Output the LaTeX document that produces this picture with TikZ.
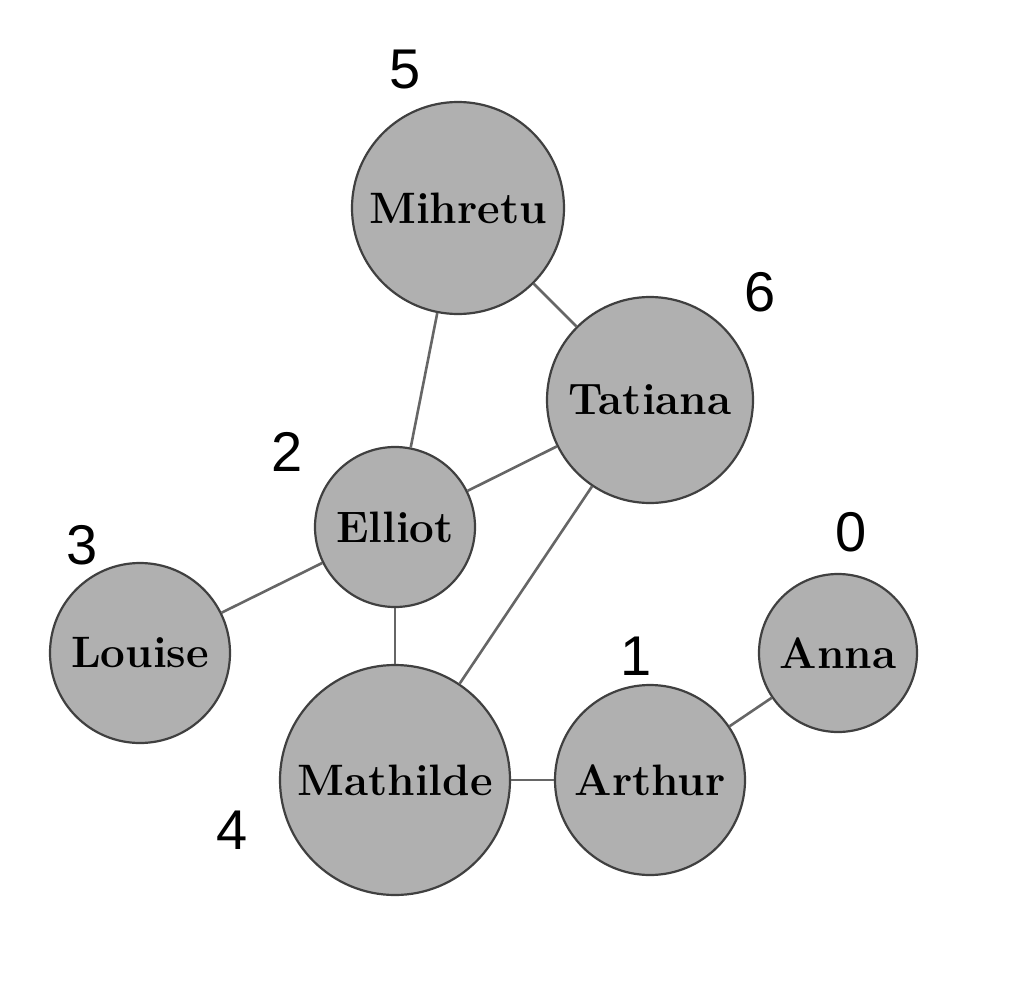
\documentclass[tikz,border=0pt]{standalone}
\usepackage{fontspec}
\newfontfamily\digitfont{Liberation Sans}
\begin{document}
\begin{tikzpicture}[x=1pt,y=-1pt,
  person/.style={circle, draw=black!75, line width=2.2pt, fill=black!31,
    inner sep=0pt, font=\fontsize{44}{50}\selectfont\bfseries},
  tie/.style={draw=black!60, line width=2.6pt},
  rank/.style={font=\digitfont\fontsize{56}{60}\selectfont, text=black}]
\useasboundingbox (0,0) rectangle (1036,990);

% people
\node[person, minimum size=212pt] (mih) at (458,208) {Mihretu};
\node[person, minimum size=206pt] (tat) at (650,400) {Tatiana};
\node[person, minimum size=160pt] (ell) at (395,527) {Elliot};
\node[person, minimum size=180pt] (lou) at (140,653) {Louise};
\node[person, minimum size=230pt] (mat) at (395,780) {Mathilde};
\node[person, minimum size=190pt] (art) at (650,780) {Arthur};
\node[person, minimum size=158pt] (ann) at (838,653) {Anna};

% ties between people
\draw[tie] (mih) -- (tat);
\draw[tie] (mih) -- (ell);
\draw[tie] (tat) -- (ell);
\draw[tie] (tat) -- (mat);
\draw[tie] (ell) -- (lou);
\draw[tie] (ell) -- (mat);
\draw[tie] (mat) -- (art);
\draw[tie] (art) -- (ann);

% index of each person
\node[rank] (r5) at (405,70) {5};
\node[rank] (r6) at (760,292) {6};
\node[rank] (r2) at (287,452) {2};
\node[rank] (r3) at (82,545) {3};
\node[rank] (r0) at (851,532) {0};
\node[rank] (r1) at (636,656) {1};
\node[rank] (r4) at (232,830) {4};
\end{tikzpicture}
\end{document}
